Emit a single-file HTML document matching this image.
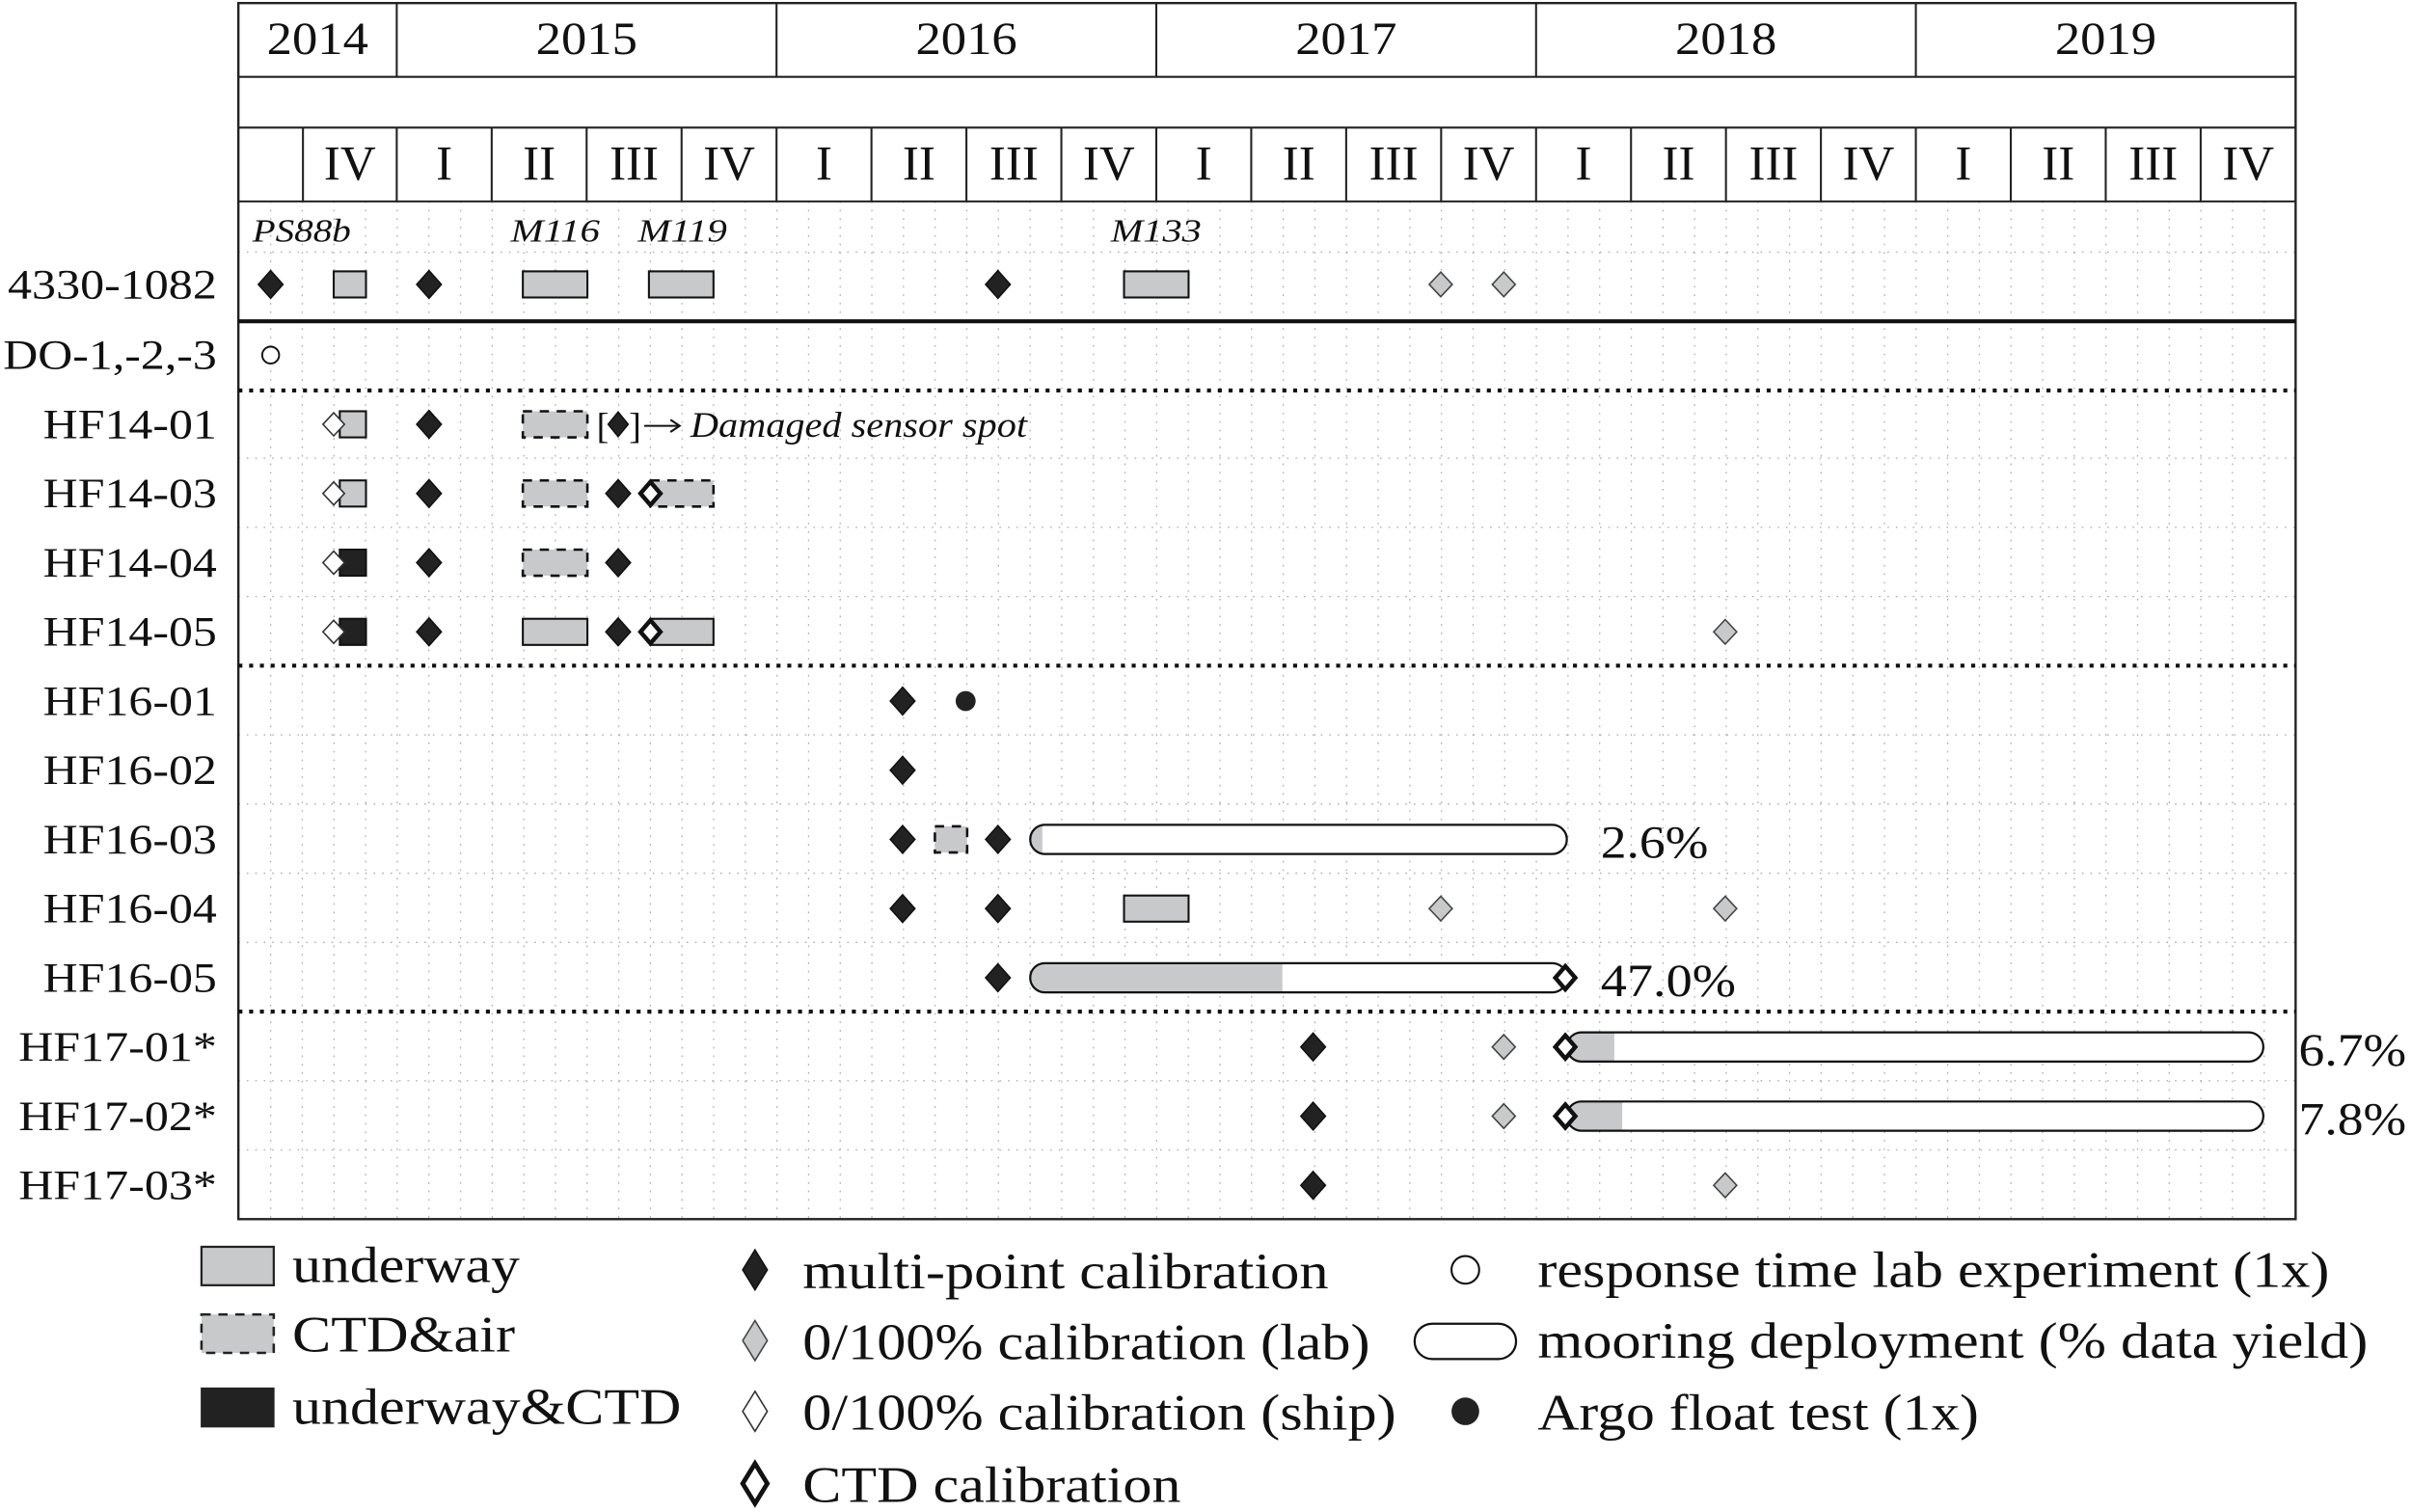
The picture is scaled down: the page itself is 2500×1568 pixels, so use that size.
<!DOCTYPE html>
<html><head><meta charset="utf-8"><style>
html,body{margin:0;padding:0;background:#fff}
svg{display:block}
text{font-family:"Liberation Serif",serif;fill:#111}
</style></head><body>
<svg id="chart" width="2500" height="1568" viewBox="0 0 1568 983.5" xmlns="http://www.w3.org/2000/svg"></svg>
<script>
// ---- data ----
const rowLabels = ["4330-1082","DO-1,-2,-3","HF14-01","HF14-03","HF14-04","HF14-05","HF16-01","HF16-02","HF16-03","HF16-04","HF16-05","HF17-01*","HF17-02*","HF17-03*"];
const years = ["2014","2015","2016","2017","2018","2019"];
const quarterLabels = ["I","II","III","IV"];
const cruises = [["PS88b",2014.62],["M116",2015.30],["M119",2015.635],["M133",2016.88]];
// [row, start, end]
const underway = [[0,2014.834,2014.919],[0,2015.332,2015.502],[0,2015.664,2015.834],[0,2016.915,2017.085],
  [2,2014.85,2014.919],[3,2014.85,2014.919],[5,2015.332,2015.502],[5,2015.668,2015.834],[9,2016.915,2017.085]];
const ctdAir = [[2,2015.332,2015.502],[3,2015.332,2015.502],[3,2015.668,2015.834],[4,2015.332,2015.502],[8,2016.417,2016.502]];
const underwayCtd = [[4,2014.85,2014.919],[5,2014.85,2014.919]];
// [row, time]
const multiCal = [[0,2014.668],[0,2015.085],[0,2016.583],[2,2015.085],[3,2015.085],[3,2015.583],[4,2015.085],[4,2015.583],
  [5,2015.085],[5,2015.583],[6,2016.332],[7,2016.332],[8,2016.332],[8,2016.583],[9,2016.332],[9,2016.583],[10,2016.583],
  [11,2017.413],[12,2017.413],[13,2017.413]];
const labCal = [[0,2017.749],[0,2017.915],[5,2018.498],[9,2017.749],[9,2018.498],[11,2017.915],[12,2017.915],[13,2018.498]];
const shipCal = [[2,2014.834],[3,2014.834],[4,2014.834],[5,2014.834]];
const ctdCal = [[3,2015.668],[5,2015.668],[10,2018.077],[11,2018.077],[12,2018.077]];
const responseExp = [[1,2014.668]];
const argoTest = [[6,2016.498]];
// [row, start, end, dataYieldEnd]
const moorings = [[8,2016.668,2018.081,2016.700],[10,2016.668,2018.081,2017.332],[11,2018.081,2019.915,2018.206],[12,2018.081,2019.915,2018.227]];
const yieldLabels = ["2.6%","47.0%","6.7%","7.8%"];

// ---- helpers ----
const NS="http://www.w3.org/2000/svg", svg=document.getElementById('chart');
function el(tag,attrs,parent){const e=document.createElementNS(NS,tag);for(const k in attrs)e.setAttribute(k,attrs[k]);(parent||svg).appendChild(e);return e;}
const X = t => 258 + (t-2015)*247;
const Y = r => r===0 ? 185 : 231 + 45*(r-1);
const L=155,R=1493,T=2,B=793;
const LA='spacingAndGlyphs';

// faint grid
const grid=el('g',{});


for(let x=176;x<R;x+=20.58) el('line',{x1:x,y1:131,x2:x,y2:B,stroke:'#aaa','stroke-width':0.8,'stroke-dasharray':'1 4.5'},grid);
const hl=[164,298,343,388,478,523,568,613,703,748];
hl.forEach(y=>el('line',{x1:L,y1:y,x2:R,y2:y,stroke:'#aaa','stroke-width':0.8,'stroke-dasharray':'1 4.5'},grid));

// header
const hdr=el('g',{});


[50,83,131].forEach(y=>el('line',{x1:L,y1:y,x2:R,y2:y,stroke:'#222','stroke-width':1.3},hdr));
for(let i=1;i<6;i++){const x=X(2014+i);el('line',{x1:x,y1:T,x2:x,y2:50,stroke:'#222','stroke-width':1.3},hdr);}
years.forEach((yr,i)=>{const x0=i===0?L:X(2014+i),x1=X(2015+i);
  const t=el('text',{x:(x0+x1)/2,y:35,'font-size':30,'text-anchor':'middle',textLength:66,lengthAdjust:LA},hdr);t.textContent=yr;
  });
el('line',{x1:197,y1:83,x2:197,y2:131,stroke:'#222','stroke-width':1.3},hdr);
const q4=el('text',{x:227.5,y:117,'font-size':32,'text-anchor':'middle'},hdr);q4.textContent='IV';
for(let y=2015;y<2020;y++)for(let q=0;q<4;q++){const x=X(y+q/4);
  el('line',{x1:x,y1:83,x2:x,y2:131,stroke:'#222','stroke-width':1.3},hdr);
  const t=el('text',{x:x+30.9,y:117,'font-size':32,'text-anchor':'middle'},hdr);t.textContent=quarterLabels[q];
  }
el('rect',{x:L,y:T,width:R-L,height:B-T,fill:'none',stroke:'#222','stroke-width':1.5});

// separators
el('line',{x1:L,y1:209,x2:R,y2:209,stroke:'#111','stroke-width':2.6});
[254,433,658].forEach(y=>{const s=el('line',{x1:L,y1:y,x2:R,y2:y,stroke:'#111','stroke-width':2.6,'stroke-dasharray':'2.6 4.4'});
  });

// row labels
rowLabels.forEach((lab,r)=>{
  const w = r===0?136 : r===1?139 : lab.endsWith('*')?129 : 113;
  const t=el('text',{x:141-w,y:Y(r)+9,'font-size':27,textLength:w,lengthAdjust:LA});t.textContent=lab;
  });
cruises.forEach(([c,t])=>{const w=c.length===5?64:c==='M133'?59:58;
  const e=el('text',{x:X(t),y:157,'font-size':21,'font-style':'italic',textLength:w,lengthAdjust:LA});e.textContent=c;
  });

// marks
const marks=el('g',{});
function rect(r,a,b,fill,dash){const e=el('rect',{x:X(a),y:Y(r)-8.5,width:X(b)-X(a),height:17,fill:fill,stroke:'#111','stroke-width':1.3},marks);
  if(dash){e.setAttribute('stroke-dasharray','6 5');e.setAttribute('stroke-width',1.6);}return e;}
underway.forEach(([r,a,b])=>{const e=rect(r,a,b,'#c8c9cb');});
ctdAir.forEach(([r,a,b])=>{const e=rect(r,a,b,'#c8c9cb',true);});
underwayCtd.forEach(([r,a,b])=>{const e=rect(r,a,b,'#222');});
moorings.forEach(([r,a,b,g],i)=>{const x0=X(a),x1=X(b),y=Y(r);
  const cp=el('clipPath',{id:'mc'+i},marks);el('rect',{x:x0,y:y-9.5,width:x1-x0,height:19,rx:9.5},cp);
  el('rect',{x:x0,y:y-9.5,width:x1-x0,height:19,rx:9.5,fill:'#fff'},marks);
  const f=el('rect',{x:x0,y:y-9.5,width:X(g)-x0,height:19,fill:'#c8c9cb','clip-path':'url(#mc'+i+')'},marks);
  
  const o=el('rect',{x:x0,y:y-9.5,width:x1-x0,height:19,rx:9.5,fill:'none',stroke:'#111','stroke-width':1.4},marks);
  
  const lab=yieldLabels[i];const w=lab.length===5?88:70;
  const t=el('text',{x:x1+(b>2019?23:22),y:y+12,'font-size':30,textLength:w,lengthAdjust:LA},marks);t.textContent=lab;
  });
function diamond(cx,cy,h,w,fill,stroke,sw,par){return el('polygon',{points:`${cx},${cy-h} ${cx+w},${cy} ${cx},${cy+h} ${cx-w},${cy}`,fill:fill,stroke:stroke,'stroke-width':sw},par||marks);}
multiCal.forEach(([r,t])=>{const e=diamond(X(t),Y(r),9,8,'#222','#111',1);});
labCal.forEach(([r,t])=>{const e=diamond(X(t),Y(r),8,7.5,'#c8c9cb','#444',1);});
shipCal.forEach(([r,t])=>{const e=diamond(X(t),Y(r),7.5,7,'#fff','#333',1);});
ctdCal.forEach(([r,t])=>{const e=diamond(X(t),Y(r),7.5,6.5,'#fff','#111',2.8);});
responseExp.forEach(([r,t])=>{const e=el('circle',{cx:X(t),cy:Y(r),r:5.5,fill:'#fff',stroke:'#111','stroke-width':1.2},marks);});
argoTest.forEach(([r,t])=>{const e=el('circle',{cx:X(t),cy:Y(r),r:6.5,fill:'#222'},marks);});

// damaged sensor annotation
const an=el('g',{});


const b1=el('text',{x:388,y:285,'font-size':24},an);b1.textContent='[';
diamond(402,Y(2),8,6.5,'#222','#111',1,an);
const b2=el('text',{x:409,y:285,'font-size':24},an);b2.textContent=']';
el('line',{x1:419,y1:Y(2)+1,x2:441,y2:Y(2)+1,stroke:'#111','stroke-width':1.3},an);
el('polyline',{points:`436,${Y(2)-3} 442,${Y(2)+1} 436,${Y(2)+5}`,fill:'none',stroke:'#111','stroke-width':1.3},an);
const dt=el('text',{x:449,y:284,'font-size':23,'font-style':'italic',textLength:219,lengthAdjust:LA},an);dt.textContent='Damaged sensor spot';

// legend
const lg=el('g',{});


function ltext(x,y,s,w){const t=el('text',{x:x,y:y,'font-size':33,textLength:w,lengthAdjust:LA},lg);t.textContent=s;return t;}
el('rect',{x:131,y:811,width:47,height:25,fill:'#c8c9cb',stroke:'#222','stroke-width':1.4},lg);
ltext(190,834,'underway',148);
el('rect',{x:131,y:855,width:47,height:25,fill:'#c8c9cb',stroke:'#222','stroke-width':1.6,'stroke-dasharray':'6 5'},lg);
ltext(190,879,'CTD&air',145);
el('rect',{x:131,y:903,width:47,height:25,fill:'#222',stroke:'#222','stroke-width':1},lg);
ltext(190,926,'underway&CTD',253);
function ldiam(cy,fill,stroke,sw){el('polygon',{points:`491,${cy-13} 499,${cy} 491,${cy+13} 483,${cy}`,fill:fill,stroke:stroke,'stroke-width':sw},lg);}
ldiam(826,'#222','#111',1);ltext(522,838,'multi-point calibration',342);
ldiam(872,'#c8c9cb','#444',1);ltext(522,884,'0/100% calibration (lab)',369);
ldiam(918,'#fff','#333',1);ltext(522,930,'0/100% calibration (ship)',386);
ldiam(965,'#fff','#111',3);ltext(522,977,'CTD calibration',246);
el('circle',{cx:953,cy:826,r:9,fill:'#fff',stroke:'#111','stroke-width':1.3},lg);ltext(1000,837,'response time lab experiment (1x)',515);
el('rect',{x:920,y:861,width:66,height:23,rx:11.5,fill:'#fff',stroke:'#111','stroke-width':1.4},lg);ltext(1000,883,'mooring deployment (% data yield)',540);
el('circle',{cx:953,cy:918,r:9,fill:'#222'},lg);ltext(1000,930,'Argo float test (1x)',287);
</script>
</body></html>
